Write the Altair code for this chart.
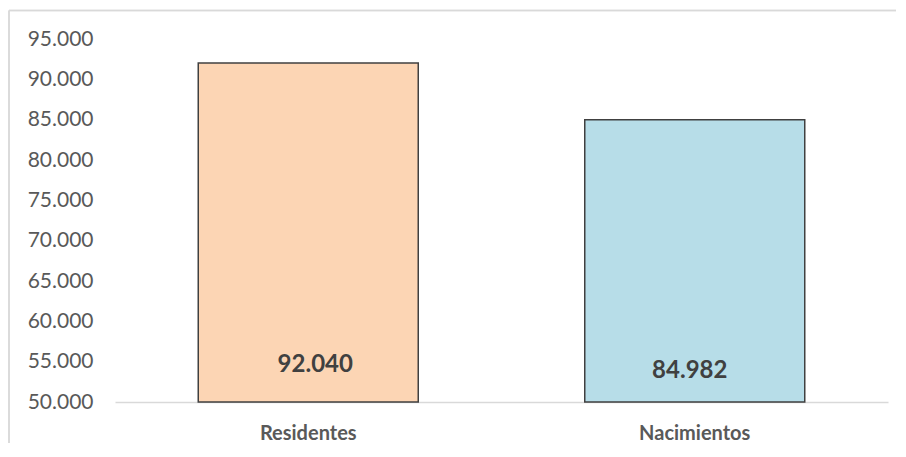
import altair as alt
import pandas as pd

categories = ["Residentes", "Nacimientos"]
values = [92040, 84982]
colors = ["#FCD5B4", "#B7DDE8"]
label_texts = ["92.040", "84.982"]
axis_min = 50000
axis_max = 95000

df = pd.DataFrame({"cat": categories, "val": values, "label": label_texts})

FONT = "Lato"

x_enc = alt.X("cat:N", sort=categories, title=None,
              axis=alt.Axis(labelAngle=0, labelFontSize=20, labelFontWeight="bold",
                            labelColor="#595959", labelFont=FONT, ticks=False,
                            domainColor="#D9D9D9", domainWidth=1.5, labelPadding=21))

bars = alt.Chart(df).mark_bar(size=220, stroke="#404040", strokeWidth=1.5).encode(
    x=x_enc,
    y=alt.Y("val:Q", title=None,
            scale=alt.Scale(domain=[axis_min, axis_max], nice=False, zero=False),
            axis=alt.Axis(values=list(range(axis_min, axis_max + 1, 5000)), grid=False, domain=False,
                          ticks=False, labelFontSize=21, labelColor="#595959", labelFont=FONT,
                          labelPadding=22,
                          labelExpr="replace(format(datum.value, ',.0f'), ',', '.')")),
    y2=alt.datum(axis_min),
    color=alt.Color("cat:N", scale=alt.Scale(domain=categories, range=colors), legend=None),
)

lab1 = alt.Chart(df).transform_filter(alt.datum.cat == "Residentes").mark_text(
    fontSize=24, fontWeight="bold", color="#404040", font=FONT, baseline="middle", dx=7
).encode(x=alt.X("cat:N", sort=categories), y=alt.value(326), text="label:N")

lab2 = alt.Chart(df).transform_filter(alt.datum.cat == "Nacimientos").mark_text(
    fontSize=24, fontWeight="bold", color="#404040", font=FONT, baseline="middle", dx=-5
).encode(x=alt.X("cat:N", sort=categories), y=alt.value(332), text="label:N")

border_top = alt.Chart(df).mark_rule(color="#D9D9D9", strokeWidth=1.5).encode(
    x=alt.value(-106), x2=alt.value(800), y=alt.value(-28.5))
border_left = alt.Chart(df).mark_rule(color="#D9D9D9", strokeWidth=1.5).encode(
    x=alt.value(-106), y=alt.value(-28.5), y2=alt.value(420))

chart = alt.layer(border_top, border_left, bars, lab1, lab2).properties(
    width=773, height=363,
    autosize=alt.AutoSizeParams(type="none"),
    padding={"left": 107, "top": 31, "right": 8, "bottom": 41},
).configure_view(stroke=None)

chart.save("out.html", embed_options={"renderer": "svg", "actions": False})
